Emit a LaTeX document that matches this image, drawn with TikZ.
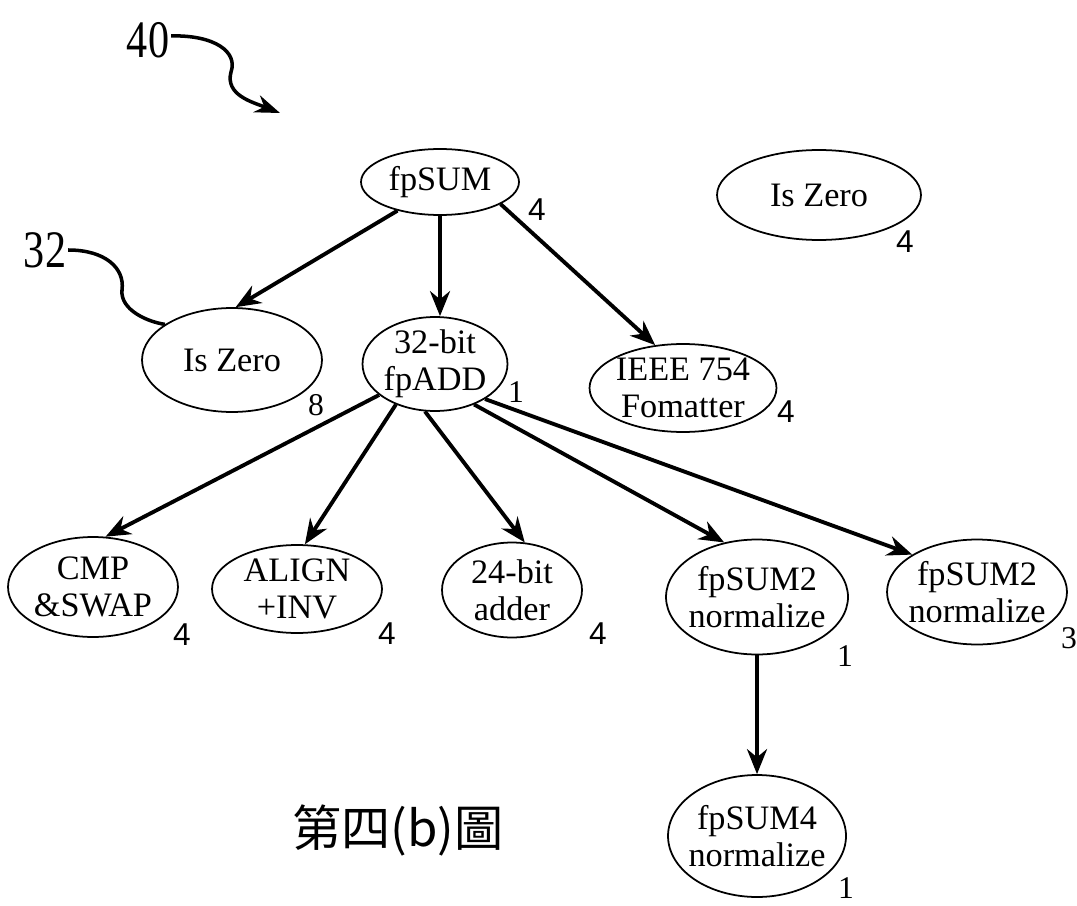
\documentclass[tikz,border=0pt]{standalone}
\usepackage{graphicx}
\usepackage{fontspec}
\setmainfont{Liberation Serif}
\newfontfamily\cjkfont{Noto Sans CJK TC}
\newfontfamily\numfont{Liberation Sans}
\usetikzlibrary{shapes.geometric,arrows.meta}

\tikzset{
  blk/.style={ellipse,draw,line width=1pt,inner sep=-4pt,align=center,
    font=\fontsize{19.5}{21}\selectfont},
  arr/.style={line width=2.2pt,-{Stealth[length=5mm,width=4mm]}},
  cnt/.style={inner sep=0pt,font=\numfont\fontsize{18}{18}\selectfont},
  cnts/.style={inner sep=0pt,font=\fontsize{18}{18}\selectfont},
  refnum/.style={inner sep=1pt,font=\fontsize{30}{30}\selectfont}
}

\begin{document}
\begin{tikzpicture}[x=0.02cm,y=-0.02cm]
\useasboundingbox (0,0) rectangle (1077,905);

% top level
\node[blk,minimum width=3.16cm,minimum height=1.32cm] (fpsum) at (440,182) {fpSUM};
\node[cnt] at (537,210) {4};
\node[blk,minimum width=4.08cm,minimum height=1.8cm] (zeroR) at (819,195) {Is Zero};
\node[cnt] at (905,242) {4};

% second level
\node[blk,minimum width=3.6cm,minimum height=2.08cm] (zeroL) at (232,360) {Is Zero};
\node[cnts] at (316,405) {8};
\node[blk,minimum width=2.9cm,minimum height=1.88cm] (fpadd) at (435,364) {32-bit\\fpADD};
\node[cnts] at (516,392) {1};
\node[blk,minimum width=3.74cm,minimum height=1.76cm] (ieee) at (683,388) {IEEE 754\\Fomatter};
\node[cnt] at (786,412) {4};

% third level
\node[blk,minimum width=3.4cm,minimum height=2.0cm] (cmp) at (93,587) {CMP\\\&SWAP};
\node[cnt] at (182,635) {4};
\node[blk,minimum width=3.4cm,minimum height=1.76cm] (align) at (297,589) {ALIGN\\+INV};
\node[cnt] at (387,634) {4};
\node[blk,minimum width=2.8cm,minimum height=1.9cm] (adder) at (512,590) {24-bit\\adder};
\node[cnt] at (598,634) {4};
\node[blk,minimum width=3.64cm,minimum height=2.3cm] (normA) at (757,597) {fpSUM2\\normalize};
\node[cnts] at (845,656) {1};
\node[blk,minimum width=3.6cm,minimum height=2.1cm] (normB) at (977,592) {fpSUM2\\normalize};
\node[cnts] at (1069,638) {3};

% bottom
\node[blk,minimum width=3.56cm,minimum height=2.44cm] (normC) at (757,836) {fpSUM4\\normalize};
\node[cnts] at (846,888) {1};

\node[inner sep=0pt,font=\cjkfont\fontsize{28}{28}\selectfont] (cap) at (398,830) {第四(b)圖};

% arrows
\draw[arr] (fpsum.214) -- (zeroL.86);
\draw[arr] (fpsum.south) -- (fpsum.south |- fpadd.north);
\draw[arr] (fpsum.340) -- (ieee.123);
\draw[arr] (fpadd.209) -- (cmp.76);
\draw[arr] (fpadd.226) -- (align.80);
\draw[arr] (fpadd.258) -- (adder.75);
\draw[arr] (fpadd.314) -- (normA.121);
\draw[arr] (fpadd.325) -- (normB.150);
\draw[arr] (normA.south) -- (normC.north);

% reference numerals
\node[refnum] (forty) at (148,40) {\scalebox{0.8}[1]{40}};
\coordinate (fortytip) at (280,113);
\draw[line width=2pt,-{Stealth[length=5mm,width=3.6mm]}]
  (forty.10) .. controls (215,35) and (238,52) .. (231,72)
  .. controls (225,95) and (252,102) .. (fortytip);
\node[refnum] (tt) at (45,250) {\scalebox{0.8}[1]{32}};
\draw[line width=2pt]
  (tt.east) .. controls (105,250) and (125,268) .. (122,290)
  .. controls (120,310) and (148,322) .. (zeroL.152);
\end{tikzpicture}
\end{document}
